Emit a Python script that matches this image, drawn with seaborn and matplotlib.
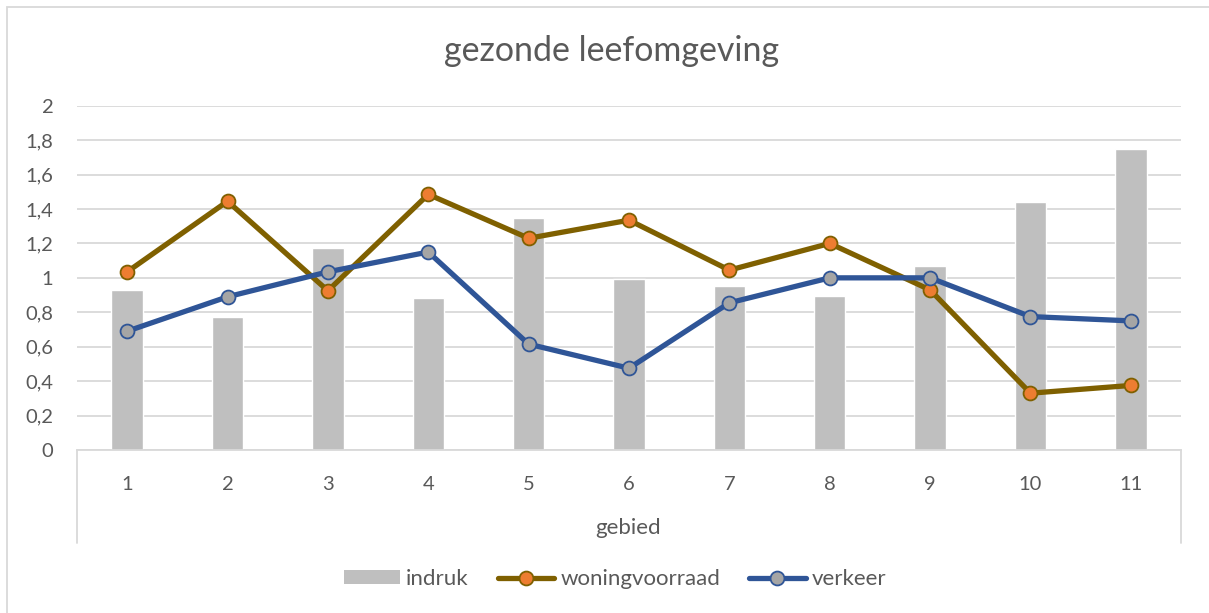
import numpy as np
import pandas as pd
import matplotlib
matplotlib.use("Agg")
import matplotlib.pyplot as plt
from matplotlib.lines import Line2D
from matplotlib.patches import Patch, Rectangle
import seaborn as sns

categories = ["1", "2", "3", "4", "5", "6", "7", "8", "9", "10", "11"]
indruk = [0.93, 0.775, 1.175, 0.885, 1.345, 0.995, 0.95, 0.895, 1.07, 1.44, 1.75]
woningvoorraad = [1.035, 1.445, 0.925, 1.485, 1.23, 1.335, 1.045, 1.20, 0.93, 0.33, 0.375]
verkeer = [0.69, 0.89, 1.035, 1.15, 0.615, 0.475, 0.855, 1.0, 1.0, 0.775, 0.75]
yticks = [0, 0.2, 0.4, 0.6, 0.8, 1.0, 1.2, 1.4, 1.6, 1.8, 2.0]
ytick_labels = ["0", "0,2", "0,4", "0,6", "0,8", "1", "1,2", "1,4", "1,6", "1,8", "2"]

sns.set_theme(style="white")
plt.rcParams["font.family"] = ["Lato", "DejaVu Sans"]
TXT = "#595959"

df = pd.DataFrame({"gebied": categories, "indruk": indruk,
                   "woningvoorraad": woningvoorraad, "verkeer": verkeer})
df["pos"] = np.arange(len(categories))

W, H = 1209, 613
fig = plt.figure(figsize=(W / 100, H / 100), dpi=100)
ax = fig.add_axes([77 / W, 1 - 450 / H, (1181 - 77) / W, (450 - 105.7) / H])

sns.barplot(data=df, x="gebied", y="indruk", order=categories, color="#BFBFBF",
            saturation=1, width=0.313, ax=ax, zorder=2)
sns.lineplot(data=df, x="pos", y="woningvoorraad", ax=ax, color="#7F6000",
             linewidth=3.8, marker="o", markersize=10, markerfacecolor="#ED7D31",
             markeredgecolor="#7F6000", markeredgewidth=1.3, zorder=3)
sns.lineplot(data=df, x="pos", y="verkeer", ax=ax, color="#2F5597",
             linewidth=3.8, marker="o", markersize=10, markerfacecolor="#A5A5A5",
             markeredgecolor="#2F5597", markeredgewidth=1.3, zorder=4)

ax.set_xlim(-0.5, len(categories) - 0.5)
ax.set_ylim(0, 2)
ax.set_yticks(yticks)
ax.set_yticklabels(ytick_labels)
ax.grid(axis="y", color="#D9D9D9", linewidth=1.3, zorder=0)
ax.grid(axis="x", visible=False)
ax.set_axisbelow(True)
for s in ["top", "right", "left"]:
    ax.spines[s].set_visible(False)
ax.spines["bottom"].set_color("#D9D9D9")
ax.spines["bottom"].set_linewidth(1.3)
ax.tick_params(axis="y", length=0, pad=17, labelsize=14.5, labelcolor=TXT)
ax.tick_params(axis="x", length=0, pad=19, labelsize=14.5, labelcolor=TXT)
ax.set_xlabel("")
ax.set_ylabel("")

# category box lines
for xp in [77, 1181]:
    fig.add_artist(Line2D([xp / W, xp / W], [1 - 450 / H, 1 - 543 / H],
                          color="#D9D9D9", linewidth=1.3))

fig.text(628 / W, 1 - 528 / H, "gebied", ha="center", va="center",
         fontsize=16, color=TXT)
fig.text(612 / W, 1 - 51 / H, "gezonde leefomgeving", ha="center", va="center",
         fontsize=24.5, color=TXT)

# chart border
fig.add_artist(Rectangle((7 / W, -0.05), 1.2, 1 - 7 / H + 0.05, fill=False,
                         edgecolor="#D9D9D9", linewidth=1.3,
                         transform=fig.transFigure))

handles = [
    Patch(facecolor="#BFBFBF", edgecolor="none"),
    Line2D([], [], color="#7F6000", linewidth=3.8, marker="o", markersize=10,
           markerfacecolor="#ED7D31", markeredgecolor="#7F6000", markeredgewidth=1.3),
    Line2D([], [], color="#2F5597", linewidth=3.8, marker="o", markersize=10,
           markerfacecolor="#A5A5A5", markeredgecolor="#2F5597", markeredgewidth=1.3),
]
leg = fig.legend(handles, ["indruk", "woningvoorraad", "verkeer"], loc="center",
                 bbox_to_anchor=(615 / W, 1 - 579 / H), ncol=3, frameon=False,
                 fontsize=16, handlelength=2.55, handletextpad=0.27,
                 columnspacing=1.3, handleheight=0.6)
for t in leg.get_texts():
    t.set_color(TXT)

fig.savefig("out.png", dpi=100, facecolor="white")
